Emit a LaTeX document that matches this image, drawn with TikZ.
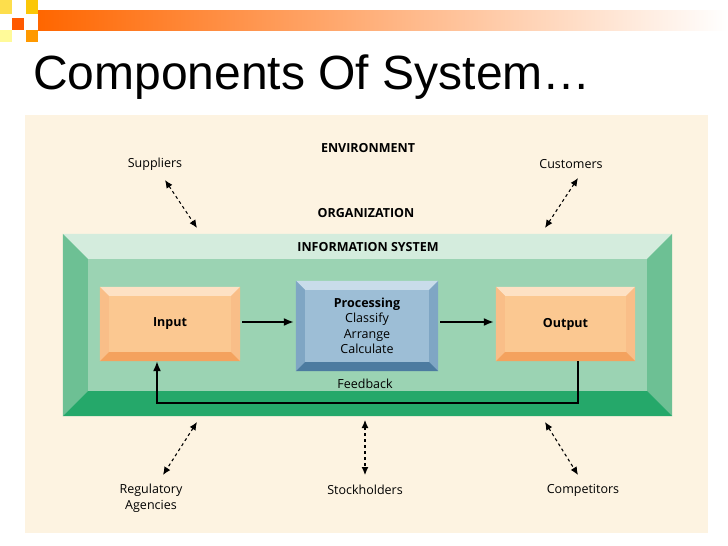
\documentclass[tikz,border=0pt]{standalone}
\usepackage{fontspec}
\setmainfont{Open Sans}
\newfontfamily\titlefont{Liberation Sans}
\usepackage{tikz}
\usetikzlibrary{calc,positioning,arrows.meta}

\definecolor{cream}{HTML}{FDF3E1}
\definecolor{gtop}{HTML}{D4ECDD}
\definecolor{gside}{HTML}{6DC094}
\definecolor{gbot}{HTML}{25A86A}
\definecolor{gin}{HTML}{9BD3B3}
\definecolor{otop}{HTML}{FDE1C4}
\definecolor{oside}{HTML}{F9BE88}
\definecolor{obot}{HTML}{F4A25E}
\definecolor{oin}{HTML}{FBC891}
\definecolor{btop}{HTML}{C9DCEA}
\definecolor{bside}{HTML}{7FA6C4}
\definecolor{bbot}{HTML}{4C7BA0}
\definecolor{bin}{HTML}{9DBED6}

% bevel: node, depth, top, left/right, bottom (drawn inward, y axis points down)
\newcommand{\bevel}[5]{
  \fill[#3] (#1.north west) -- (#1.north east) -- ($(#1.north east)+(-#2,#2)$) -- ($(#1.north west)+(#2,#2)$) -- cycle;
  \fill[#4] (#1.north west) -- ($(#1.north west)+(#2,#2)$) -- ($(#1.south west)+(#2,-#2)$) -- (#1.south west) -- cycle;
  \fill[#4] (#1.north east) -- ($(#1.north east)+(-#2,#2)$) -- ($(#1.south east)+(-#2,-#2)$) -- (#1.south east) -- cycle;
  \fill[#5] (#1.south west) -- (#1.south east) -- ($(#1.south east)+(-#2,-#2)$) -- ($(#1.south west)+(#2,-#2)$) -- cycle;
}

\begin{document}
\begin{tikzpicture}[x=1pt, y=-1pt,
  lab/.style={font=\fontsize{12.5}{15.5}\selectfont, align=center},
  head/.style={font=\fontsize{12.5}{15}\selectfont\bfseries},
  flow/.style={-{Latex[length=10pt,width=8pt]}, line width=1.6pt},
  env/.style={{Latex[length=8pt,width=7pt]}-{Latex[length=8pt,width=7pt]}, dashed, line width=1.1pt}]
  \useasboundingbox (0,0) rectangle (728,546);
  \fill[white] (0,0) rectangle (728,546);
  % banner
  \shade[left color=orange!80!red, right color=white] (38,10) rectangle (728,30);
  \fill[orange!70!red] (12,18) rectangle (24,30);
  \fill[yellow!60!orange] (26,0) rectangle (38,14);
  \fill[yellow!70!orange!70] (0,0) rectangle (12,14);
  \fill[orange!80!yellow] (26,30) rectangle (38,42);
  \fill[yellow!40] (0,30) rectangle (12,42);
  \node[anchor=base west, font=\titlefont\fontsize{48}{50}\selectfont, inner sep=0] (title) at (33,89) {Components Of System\ldots};
  % panel
  \fill[cream] (25,115) rectangle (708,533);
  \node[head] (envir) at (368,148) {ENVIRONMENT};
  \node[head] (org) at (366,213) {ORGANIZATION};
  \node[lab] (sup) at (155,164) {Suppliers};
  \node[lab] (cus) at (571,164) {Customers};
  \node[lab] (reg) at (151,498) {Regulatory\\Agencies};
  \node[lab] (stk) at (365,490) {Stockholders};
  \node[lab] (cmp) at (583,490) {Competitors};
  % information system
  \node[fill=gin, minimum width=609, minimum height=182, inner sep=0] (is) at (367.5,325) {};
  \bevel{is}{25}{gtop}{gside}{gbot}
  \node[head] (istitle) at (368,247) {INFORMATION SYSTEM};
  \node[fill=oin, minimum width=140, minimum height=74, inner sep=0] (inp) at (170,324) {};
  \bevel{inp}{9}{otop}{oside}{obot}
  \node[head] at (inp) {Input};
  \node[fill=bin, minimum width=142, minimum height=90, inner sep=0] (proc) at (367,326) {};
  \bevel{proc}{9}{btop}{bside}{bbot}
  \node[lab] at (proc) {\textbf{Processing}\\Classify\\Arrange\\Calculate};
  \node[fill=oin, minimum width=139, minimum height=74, inner sep=0] (out) at (565.5,324) {};
  \bevel{out}{9}{otop}{oside}{obot}
  \node[head] at (out) {Output};
  \node[lab] (fb) at (365,384) {Feedback};
  \coordinate (fbr) at (578,403);
  \coordinate (fbl) at (157,403);
  \draw[flow] ($(inp.east)+(2,-2)$) -- ($(inp.east -| proc.west)+(-2,-2)$);
  \draw[flow] ($(proc.east |- out.west)+(2,-2)$) -- ($(out.west)+(-2,-2)$);
  \draw[flow] (out.south -| fbr) -- (fbr) -- (fbl) -- (inp.south -| fbl);
  % environment links
  \draw[env] (165,180) -- (197,228);
  \draw[env] (578,178) -- (545,228);
  \draw[env] (197,422) -- (163,475);
  \draw[env] (365,420) -- (365,475);
  \draw[env] (545,422) -- (578,475);
\end{tikzpicture}
\end{document}
